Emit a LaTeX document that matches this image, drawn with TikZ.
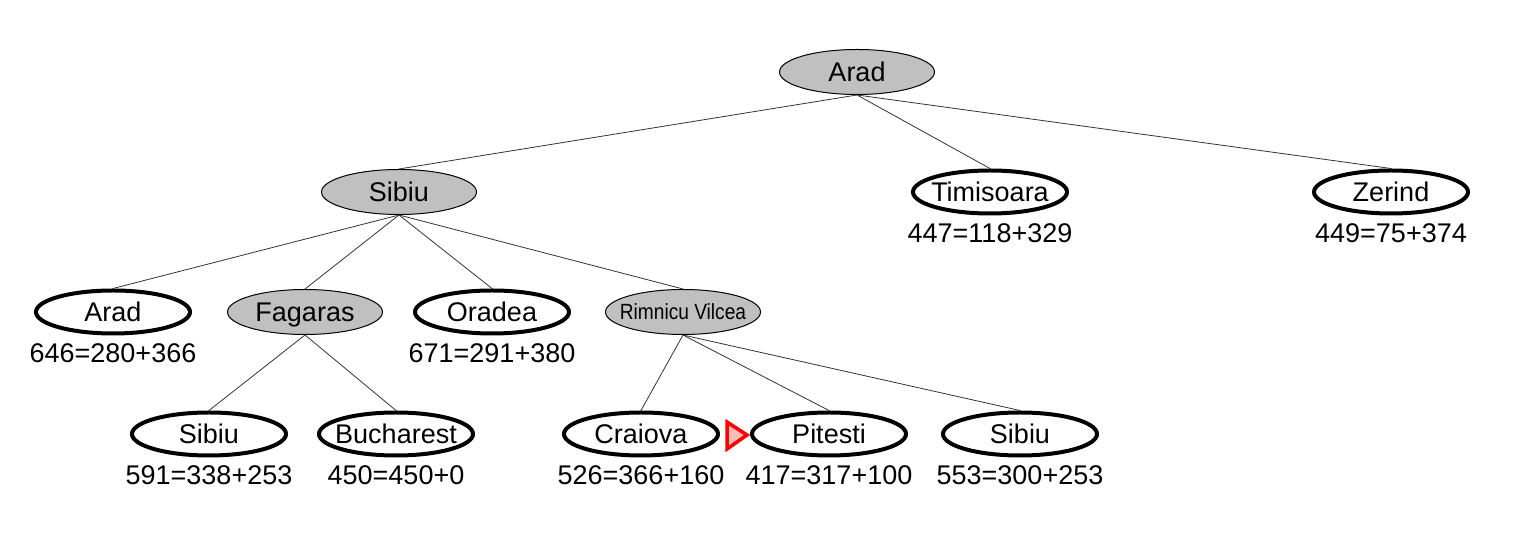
\documentclass[tikz,border=0pt]{standalone}
\usepackage{fontspec}
\setmainfont{Liberation Sans}
\usetikzlibrary{shapes.geometric}
\definecolor{nodegray}{RGB}{192,192,192}
\definecolor{tripink}{RGB}{255,185,185}
\newcommand{\nlab}[1]{\makebox[0pt]{#1}}
\tikzset{
  base/.style={ellipse, inner sep=0pt, font=\fontsize{27}{29}\selectfont, text height=19.3pt, text depth=0pt},
  expanded/.style={base, draw=black, line width=1pt, fill=nodegray, minimum width=155pt, minimum height=45pt},
  frontier/.style={base, draw=black, line width=4pt, fill=white, minimum width=154pt, minimum height=43pt},
  lbl/.style={anchor=base, inner sep=0pt, font=\fontsize{27}{29}\selectfont},
  edge/.style={draw=black!80, line width=0.8pt},
  marker/.style={draw=red, line width=3.5pt, fill=tripink, line join=miter}
}
\begin{document}
\begin{tikzpicture}[x=1pt,y=1pt]
\useasboundingbox (0,0) rectangle (1519,535);
% level 0
\node[expanded] (arad0) at (857,463) {\nlab{Arad}};
% level 1
\node[expanded] (sibiu1) at (399,343) {\nlab{Sibiu}};
\node[frontier] (timisoara) at (990,343) {\nlab{Timisoara}};
\node[frontier] (zerind) at (1391,343) {\nlab{Zerind}};
% level 2
\node[frontier] (arad2) at (113,223) {\nlab{Arad}};
\node[expanded] (fagaras) at (305,223) {\nlab{Fagaras}};
\node[frontier] (oradea) at (492,223) {\nlab{Oradea}};
\node[expanded, text height=16pt] (rimnicu) at (683,223) {\nlab{\fontsize{22}{24}\selectfont\scalebox{0.87}[1]{Rimnicu Vilcea}}};
% level 3
\node[frontier] (sibiu3) at (209,101) {\nlab{Sibiu}};
\node[frontier] (bucharest) at (396,101) {\nlab{Bucharest}};
\node[frontier] (craiova) at (641,101) {\nlab{Craiova}};
\node[frontier] (pitesti) at (829,101) {\nlab{Pitesti}};
\node[frontier] (sibiu4) at (1020,101) {\nlab{Sibiu}};
% labels
\node[lbl] (ltim) at (990,292) {447=118+329};
\node[lbl] (lzer) at (1391,292) {449=75+374};
\node[lbl] (lara) at (113,172) {646=280+366};
\node[lbl] (lora) at (492,172) {671=291+380};
\node[lbl] (lsib3) at (209,50) {591=338+253};
\node[lbl] (lbuc) at (396,50) {450=450+0};
\node[lbl] (lcra) at (641,50) {526=366+160};
\node[lbl] (lpit) at (829,50) {417=317+100};
\node[lbl] (lsib4) at (1020,50) {553=300+253};
% edges
\draw[edge] (arad0.south) -- (sibiu1.north);
\draw[edge] (arad0.south) -- (timisoara.north);
\draw[edge] (arad0.south) -- (zerind.north);
\draw[edge] (sibiu1.south) -- (arad2.north);
\draw[edge] (sibiu1.south) -- (fagaras.north);
\draw[edge] (sibiu1.south) -- (oradea.north);
\draw[edge] (sibiu1.south) -- (rimnicu.north);
\draw[edge] (fagaras.south) -- (sibiu3.north);
\draw[edge] (fagaras.south) -- (bucharest.north);
\draw[edge] (rimnicu.south) -- (craiova.north);
\draw[edge] (rimnicu.south) -- (pitesti.north);
\draw[edge] (rimnicu.south) -- (sibiu4.north);
% marker
\coordinate (ta) at (727,113);
\coordinate (tb) at (727,86);
\coordinate (tc) at (747,100);
\draw[marker] (ta) -- (tb) -- (tc) -- cycle;
\end{tikzpicture}
\end{document}
